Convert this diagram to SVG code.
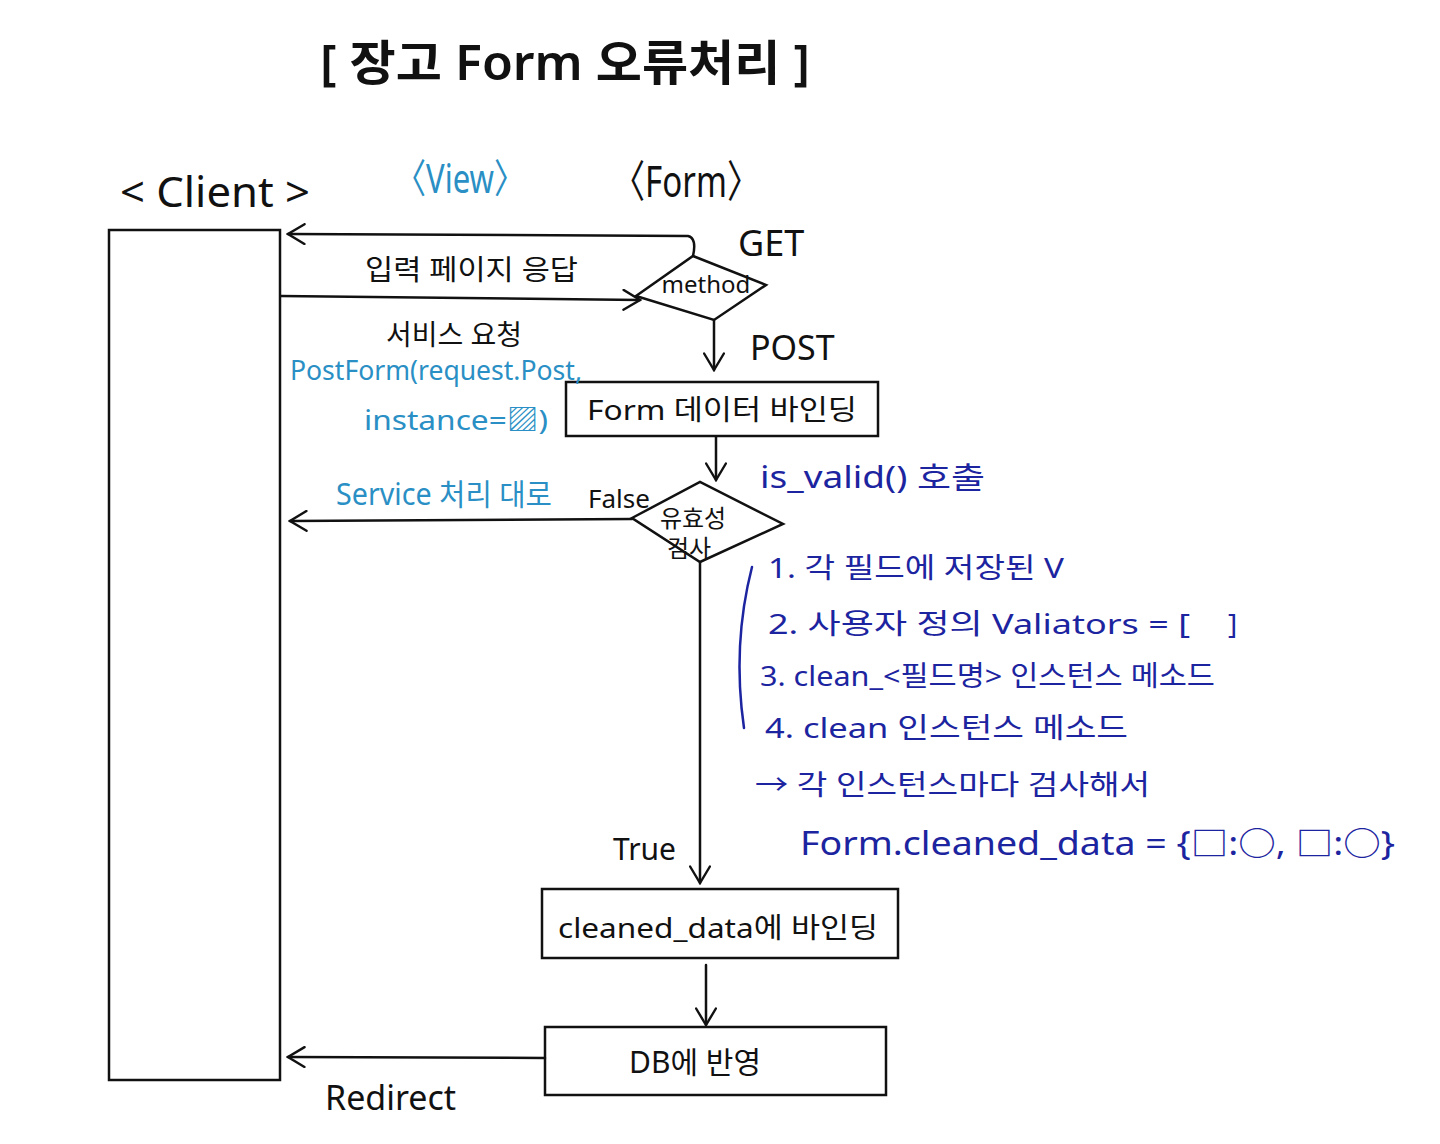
<svg xmlns="http://www.w3.org/2000/svg" width="1440" height="1144" viewBox="0 0 1440 1144">
<defs>
<style>
text{font-family:"Noto Sans","Noto Sans CJK KR",sans-serif;fill:#111}
.blk{stroke:#111;stroke-width:2.5;fill:none;stroke-linecap:round;stroke-linejoin:round}
.box{stroke:#111;stroke-width:2.5;fill:#fff}
.blue{fill:#2a8fc4}
.navy{fill:#1c24a0}
.t28{font-size:28px}
</style>
<marker id="arr" viewBox="0 0 20 20" refX="18" refY="10" markerWidth="22" markerHeight="22" markerUnits="userSpaceOnUse" orient="auto">
<path d="M3,1 L18,10 L3,19" fill="none" stroke="#111" stroke-width="2.2" stroke-linecap="round"/>
</marker>
</defs>
<rect width="1440" height="1144" fill="#fff"/>

<g id="title"><text x="320" y="80" font-size="48" font-weight="600" textLength="490" lengthAdjust="spacingAndGlyphs">[ 장고 Form 오류처리 ]</text></g>

<g id="lane-labels">
<text x="120" y="207" font-size="42" textLength="190" lengthAdjust="spacingAndGlyphs">&lt; Client &gt;</text>
<text class="blue" x="395" y="193" font-size="40" textLength="130" lengthAdjust="spacingAndGlyphs">〈View〉</text>
<text x="612" y="197" font-size="44" textLength="148" lengthAdjust="spacingAndGlyphs">〈Form〉</text>
</g>

<g id="client"><rect class="box" x="109" y="230" width="171" height="850"/></g>

<g id="method">
<polygon class="box" points="636,296 693,256 766,285 714,320"/>
<text x="706" y="293" font-size="24" text-anchor="middle">method</text>
</g>

<g id="form-bind">
<rect class="box" x="566" y="382" width="312" height="54"/>
<text x="722" y="420" class="t28" text-anchor="middle" textLength="270" lengthAdjust="spacingAndGlyphs">Form 데이터 바인딩</text>
</g>

<g id="validity">
<polygon class="box" points="632,518 700,482 783,524 700,562" fill="none"/>
<text x="693" y="527" font-size="24" text-anchor="middle">유효성</text>
<text x="689" y="557" font-size="24" text-anchor="middle">검사</text>
</g>

<g id="cleaned-bind">
<rect class="box" x="542" y="889" width="356" height="69"/>
<text x="718" y="938" class="t28" text-anchor="middle" textLength="320" lengthAdjust="spacingAndGlyphs">cleaned_data에 바인딩</text>
</g>

<g id="db">
<rect class="box" x="545" y="1027" width="341" height="68"/>
<text x="695" y="1073" font-size="30" text-anchor="middle">DB에 반영</text>
</g>

<g id="connectors">
<path class="blk" d="M693,256 Q697,238 688,236 L288,234" marker-end="url(#arr)"/>
<path class="blk" d="M281,296 L640,300" marker-end="url(#arr)"/>
<path class="blk" d="M714,320 L714,370" marker-end="url(#arr)"/>
<path class="blk" d="M716,437 L716,480" marker-end="url(#arr)"/>
<path class="blk" d="M632,519 L290,521" marker-end="url(#arr)"/>
<path class="blk" d="M700,562 L700,883" marker-end="url(#arr)"/>
<path class="blk" d="M706,965 L706,1025" marker-end="url(#arr)"/>
<path class="blk" d="M545,1058 L288,1057" marker-end="url(#arr)"/>
</g>

<g id="labels">
<text x="365" y="280" class="t28" textLength="213" lengthAdjust="spacingAndGlyphs">입력 페이지 응답</text>
<text x="386" y="345" class="t28">서비스 요청</text>
<text class="blue" x="290" y="380" font-size="28" textLength="292" lengthAdjust="spacingAndGlyphs">PostForm(request.Post,</text>
<text class="blue" x="364" y="430" font-size="28" textLength="184" lengthAdjust="spacingAndGlyphs">instance=▨)</text>
<text x="738" y="256" font-size="36">GET</text>
<text x="750" y="360" font-size="34">POST</text>
<text class="navy" x="760" y="488" font-size="30" textLength="225" lengthAdjust="spacingAndGlyphs">is_valid() 호출</text>
<text class="blue" x="336" y="505" font-size="30" textLength="216" lengthAdjust="spacingAndGlyphs">Service 처리 대로</text>
<text x="588" y="508" font-size="26">False</text>
<text x="613" y="860" font-size="30">True</text>
<text x="325" y="1110" font-size="34">Redirect</text>
</g>

<g id="notes">
<path d="M752,567 Q732,645 744,728" fill="none" stroke="#1c24a0" stroke-width="2.5" stroke-linecap="round"/>
<text class="navy" x="768" y="578" font-size="28" textLength="296" lengthAdjust="spacingAndGlyphs">1. 각 필드에 저장된 V</text>
<text class="navy" x="768" y="634" font-size="28" textLength="422" lengthAdjust="spacingAndGlyphs">2. 사용자 정의 Valiators = [</text>
<text class="navy" x="1228" y="634" font-size="28">]</text>
<text class="navy" x="760" y="686" font-size="28" textLength="455" lengthAdjust="spacingAndGlyphs">3. clean_&lt;필드명&gt; 인스턴스 메소드</text>
<text class="navy" x="765" y="738" font-size="28" textLength="363" lengthAdjust="spacingAndGlyphs">4. clean 인스턴스 메소드</text>
<text class="navy" x="755" y="795" font-size="28" textLength="395" lengthAdjust="spacingAndGlyphs">→ 각 인스턴스마다 검사해서</text>
<text class="navy" x="800" y="855" font-size="32" textLength="595" lengthAdjust="spacingAndGlyphs">Form.cleaned_data = {□:○, □:○}</text>
</g>
</svg>
